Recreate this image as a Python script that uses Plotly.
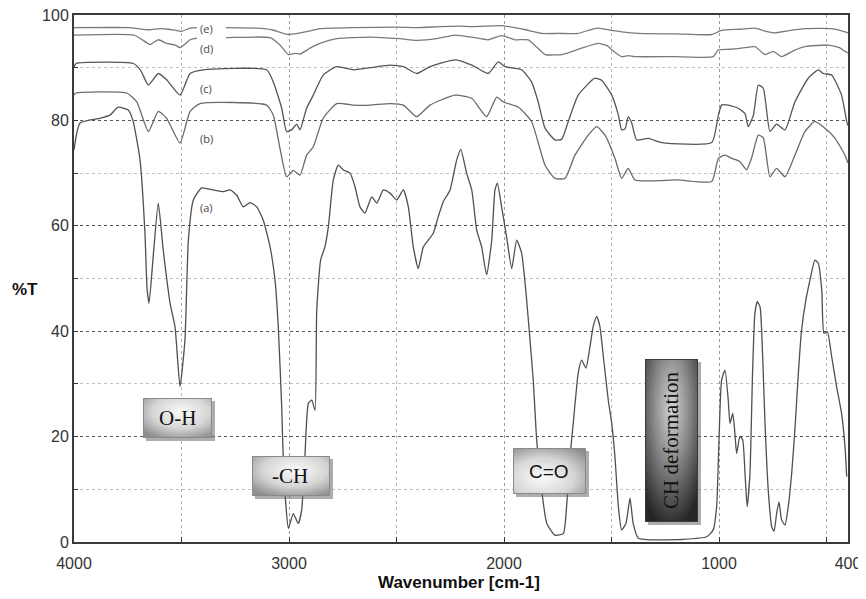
import base64
import plotly.graph_objects as go

# ---------------- data ----------------
wn_a = [4000, 3972, 3879, 3833, 3795, 3749, 3726, 3693, 3670, 3660, 3651, 3630, 3608, 3585, 3553,
        3530, 3507, 3484, 3468, 3445, 3406, 3352, 3306, 3274, 3243, 3213, 3181, 3150, 3120, 3088,
        3065, 3050, 3034, 3027, 3014, 3003, 2980, 2957, 2941, 2926, 2910, 2894, 2879, 2871, 2853,
        2833, 2817, 2794, 2771, 2747, 2716, 2693, 2670, 2647, 2615, 2592, 2561, 2530, 2499, 2468,
        2445, 2422, 2399, 2375, 2329, 2306, 2282, 2251, 2220, 2201, 2174, 2150, 2127, 2104, 2081,
        2057, 2042, 2031, 2011, 1988, 1964, 1941, 1918, 1897, 1879, 1864, 1848, 1825, 1801, 1763,
        1724, 1709, 1693, 1678, 1655, 1639, 1619, 1600, 1585, 1569, 1554, 1538, 1515, 1499, 1484,
        1468, 1453, 1433, 1414, 1399, 1375, 1321, 1166, 1057, 1027, 1011, 1000, 988, 972, 957,
        949, 936, 926, 918, 903, 890, 879, 869, 856, 844, 833, 822, 809, 797, 786,
        771, 755, 744, 732, 721, 709, 693, 678, 662, 647, 631, 616, 596, 577, 554,
        538, 522, 512, 496, 476, 453, 430, 414, 406]
t_a = [74.4, 79.5, 80.4, 81.0, 82.5, 82.0, 80.0, 72.5, 58.6, 48.0, 45.3, 55.0, 64.3, 55.4, 45.3,
       40.8, 29.5, 38.3, 57.3, 64.9, 67.2, 66.8, 66.5, 66.8, 65.8, 63.6, 64.4, 63.6, 61.1, 56.0,
       49.7, 40.9, 25.7, 16.2, 6.7, 2.6, 5.4, 3.5, 6.1, 16.2, 26.3, 26.9, 25.0, 44.0, 53.5,
       56.0, 59.8, 68.7, 71.5, 70.6, 70.0, 67.4, 63.6, 62.4, 65.5, 64.3, 66.8, 66.2, 64.9, 66.8,
       63.6, 56.0, 51.9, 56.0, 58.6, 61.7, 64.6, 66.8, 72.5, 74.5, 70.0, 66.8, 59.2, 56.0, 50.7,
       57.3, 66.8, 68.1, 63.6, 57.9, 51.9, 57.3, 54.8, 47.0, 38.3, 30.7, 19.4, 9.9, 3.5, 1.3,
       1.6, 6.7, 16.2, 22.5, 32.0, 34.5, 33.0, 37.1, 40.9, 42.8, 40.9, 35.2, 26.9, 22.5, 16.2,
       6.7, 2.3, 3.5, 8.3, 3.5, 0.7, 0.4, 0.5, 1.0, 2.3, 6.7, 19.4, 30.7, 32.6, 26.9,
       22.5, 24.4, 20.6, 16.8, 20.0, 19.4, 13.0, 6.7, 13.0, 32.0, 43.4, 45.6, 44.6, 35.2, 22.5,
       9.9, 2.9, 2.0, 5.4, 7.6, 4.2, 3.2, 6.7, 13.0, 21.3, 32.0, 40.2, 45.9, 49.7, 53.5,
       52.9, 47.8, 39.6, 39.9, 35.2, 29.5, 24.4, 18.1, 12.4]

wn_b = [4000, 3990, 3755, 3708, 3654, 3608, 3569, 3507, 3460, 3414, 3104, 3073, 3042, 3011, 2980,
        2949, 2918, 2887, 2841, 2778, 2701, 2623, 2530, 2468, 2406, 2344, 2228, 2150, 2081, 2034,
        2003, 1933, 1872, 1809, 1763, 1716, 1670, 1608, 1569, 1530, 1484, 1453, 1422, 1391, 1191,
        1034, 1003, 972, 941, 903, 872, 849, 817, 794, 763, 732, 693, 647, 600, 554,
        507, 460, 414, 400]
t_b = [84.8, 85.2, 85.2, 83.5, 77.9, 81.7, 80.4, 75.7, 81.7, 83.2, 82.9, 81.0, 74.7, 69.3, 70.5,
       69.6, 73.4, 75.0, 80.4, 83.2, 82.9, 82.9, 83.2, 82.9, 80.7, 82.9, 84.8, 84.2, 80.7, 84.4,
       83.5, 82.5, 79.8, 71.5, 69.0, 69.0, 73.4, 77.2, 78.8, 77.2, 72.8, 69.0, 70.9, 68.7, 68.7,
       68.4, 72.8, 73.4, 72.8, 72.2, 70.6, 72.8, 77.2, 76.7, 69.3, 70.9, 69.3, 73.4, 77.9, 79.8,
       78.5, 76.6, 73.4, 71.9]

wn_c = [4000, 3990, 3724, 3690, 3654, 3608, 3569, 3507, 3460, 3399, 3104, 3073, 3034, 3011, 2988,
        2964, 2949, 2918, 2887, 2841, 2778, 2701, 2623, 2530, 2468, 2406, 2344, 2228, 2150, 2073,
        2027, 1995, 1918, 1872, 1841, 1809, 1763, 1732, 1701, 1655, 1577, 1546, 1499, 1468, 1453,
        1437, 1422, 1406, 1383, 1329, 1267, 1034, 1003, 988, 957, 910, 879, 864, 840, 817,
        794, 763, 732, 693, 647, 585, 538, 515, 476, 430, 406, 400]
t_c = [90.2, 90.8, 90.8, 89.5, 86.7, 88.9, 87.7, 84.8, 88.9, 89.6, 89.6, 87.3, 82.3, 77.9, 78.2,
       79.3, 78.2, 82.3, 84.8, 88.6, 90.2, 89.6, 90.0, 90.5, 90.2, 88.9, 90.2, 91.5, 90.5, 88.9,
       91.1, 90.2, 89.6, 87.3, 83.5, 78.5, 76.3, 76.4, 79.8, 84.8, 88.0, 87.6, 84.8, 81.0, 78.2,
       78.4, 80.7, 79.5, 76.3, 76.6, 75.8, 75.8, 81.0, 82.9, 82.9, 82.3, 81.3, 78.8, 81.0, 86.7,
       86.1, 77.9, 79.3, 78.2, 83.5, 88.0, 89.6, 88.9, 88.6, 84.8, 79.8, 79.0]

wn_d = [4000, 3720, 3690, 3646, 3608, 3569, 3530, 3507, 3480, 3460, 3420, 3290, 3088, 3042, 3003,
        2970, 2949, 2902, 2856, 2778, 2623, 2484, 2406, 2313, 2228, 2150, 2073, 2011, 1949, 1887,
        1850, 1809, 1732, 1690, 1639, 1561, 1520, 1499, 1453, 1422, 1391, 1200, 1027, 1003, 950,
        895, 833, 786, 748, 709, 650, 600, 492, 440, 414, 400]
t_d = [96.2, 96.2, 95.5, 94.4, 95.3, 94.6, 94.3, 93.8, 94.6, 95.3, 95.6, 95.7, 95.7, 94.3, 92.5,
       92.7, 92.6, 93.7, 94.6, 95.5, 95.8, 95.5, 95.2, 95.5, 96.2, 95.8, 95.3, 96.1, 95.3, 95.3,
       94.0, 92.5, 92.5, 93.0, 93.7, 94.6, 94.2, 93.4, 92.1, 92.3, 92.1, 92.1, 92.1, 93.4, 93.5,
       93.7, 94.0, 92.5, 93.1, 92.1, 93.3, 94.0, 94.3, 93.8, 93.1, 92.8]

wn_e = [4000, 3740, 3700, 3650, 3600, 3560, 3500, 3460, 3420, 3300, 3150, 3080, 3040, 3003, 2960,
        2900, 2856, 2700, 2500, 2400, 2300, 2205, 2150, 2073, 2011, 1950, 1900, 1825, 1750, 1656,
        1600, 1563, 1500, 1453, 1377, 1200, 1034, 988, 900, 833, 790, 740, 680, 600, 476,
        414, 400]
t_e = [97.6, 97.6, 97.4, 97.2, 97.4, 97.3, 96.9, 97.5, 97.6, 97.6, 97.5, 97.2, 96.7, 96.3, 96.5,
       97.0, 97.4, 97.6, 97.7, 97.6, 97.8, 97.9, 97.8, 97.9, 98.0, 97.6, 97.2, 96.5, 96.5, 96.5,
       97.2, 97.5, 97.1, 96.8, 96.5, 96.4, 96.3, 97.1, 97.3, 97.5, 97.0, 96.6, 97.0, 97.4, 97.4,
       96.8, 96.6]

curve_names = ["(a)", "(b)", "(c)", "(d)", "(e)"]
label_wn = [3386, 3386, 3386, 3386, 3386]
label_t = [63.4, 76.6, 86.1, 93.7, 97.5]

x_tickvals = [4000, 3000, 2000, 1000, 400]
x_ticktext = ["4000", "3000", "2000", "1000", "400"]
x_minor_vals = [3500, 2500, 1500, 500]
y_tickvals = [0, 20, 40, 60, 80, 100]

band_names = ["O-H", "-CH", "C=O", "CH deformation"]

# ---------------- figure ----------------
fig = go.Figure()
series = [(wn_a, t_a, "#505050"), (wn_b, t_b, "#6a6a6a"), (wn_c, t_c, "#555555"),
          (wn_d, t_d, "#7a7a7a"), (wn_e, t_e, "#7a7a7a")]
for (xs, ys, col), nm in zip(series, curve_names):
    fig.add_trace(go.Scatter(x=xs, y=ys, mode="lines", name=nm,
                             line=dict(color=col, width=1.3, shape="spline", smoothing=0.5),
                             showlegend=False, hoverinfo="x+y"))

# window geometry: the page body has an 8px margin, so the figure starts at (8, 8)
OFF = 8
WIN_W, WIN_H = 866, 599
# plot area in window pixels
L, R, T, B = 74, 848, 15, 542
W, H = R - L, B - T


def px2paper(px, py):
    return (px - L) / W, (B - py) / H


def box_svg(w, h, stops, cx, cy, r, border):
    st = "".join(f'<stop offset="{o}" stop-color="{c}"/>' for o, c in stops)
    svg = (f'<svg xmlns="http://www.w3.org/2000/svg" width="{w}" height="{h}" viewBox="0 0 {w} {h}">'
           f'<defs><radialGradient id="g" cx="{cx}" cy="{cy}" r="{r}">{st}</radialGradient></defs>'
           f'<rect x="3" y="3" width="{w-3}" height="{h-3}" fill="#6a6a6a" opacity="0.55"/>'
           f'<rect x="0.5" y="0.5" width="{w-4}" height="{h-4}" fill="url(#g)" stroke="{border}" stroke-width="1"/>'
           '</svg>')
    return "data:image/svg+xml;base64," + base64.b64encode(svg.encode()).decode()


light = [(0, "#fbfbfb"), (0.55, "#d6d6d6"), (1, "#8e8e8e")]
dark = [(0, "#d4d4d4"), (0.45, "#8a8a8a"), (1, "#262626")]
boxes = [
    # (px_left, py_top, w, h, stops, cx, cy, r, border)
    (143, 398, 72, 43, light, "0.55", "0.35", "0.75", "#8a8a8a"),
    (252, 456, 81, 43, light, "0.55", "0.35", "0.75", "#8a8a8a"),
    (513, 448, 76, 49, light, "0.4", "0.65", "0.8", "#8a8a8a"),
    (645, 359, 56, 166, dark, "0.5", "0.3", "0.75", "#3a3a3a"),
]
images = []
for px, py, w, h, stops, cx, cy, r, bc in boxes:
    x0, y0 = px2paper(px, py)
    images.append(dict(source=box_svg(w, h, stops, cx, cy, r, bc), xref="paper", yref="paper",
                       x=x0, y=y0, sizex=w / W, sizey=h / H, xanchor="left", yanchor="top",
                       sizing="stretch", layer="above"))

annotations = []
# band labels
band_pos = [(177, 418, 0, "Liberation Serif", 21),
            (290, 476, 0, "Liberation Serif", 21),
            (549, 471, 0, "Liberation Sans", 19),
            (671, 440, -90, "Liberation Serif", 21)]
for txt, (px, py, ang, fam, sz) in zip(band_names, band_pos):
    ax_, ay_ = px2paper(px, py)
    annotations.append(dict(text=txt, x=ax_, y=ay_, xref="paper", yref="paper", showarrow=False,
                            xanchor="center", yanchor="middle",
                            textangle=ang, font=dict(family=fam, size=sz, color="#111111")))

# curve labels
for nm, xw, yt in zip(curve_names, label_wn, label_t):
    annotations.append(dict(text=nm, x=xw, y=yt, xref="x", yref="y", showarrow=False,
                            xanchor="center", yanchor="middle",
                            font=dict(family="Open Sans", size=11, color="#444444")))

# axis titles
ax_, ay_ = px2paper(25, 289)
annotations.append(dict(text="<b>%T</b>", x=ax_, y=ay_, xref="paper", yref="paper", showarrow=False,
                        xanchor="center", yanchor="middle",
                        font=dict(family="Liberation Sans", size=17, color="#111111")))
ax_, ay_ = px2paper(459, 582)
annotations.append(dict(text="<b>Wavenumber [cm-1]</b>", x=ax_, y=ay_, xref="paper", yref="paper",
                        showarrow=False, xanchor="center", yanchor="middle",
                        font=dict(family="Liberation Sans", size=17, color="#111111")))

# white patch behind the (e)/(d) labels (gap in the traces)
gx0, gy1 = px2paper(197, 21)
gx1, gy0 = px2paper(226, 43)
shapes = [dict(type="rect", xref="paper", yref="paper", x0=gx0, x1=gx1, y0=gy0, y1=gy1,
               fillcolor="white", line=dict(width=0), layer="above")]

fig.update_layout(
    width=WIN_W - OFF, height=WIN_H - OFF,
    margin=dict(l=L - OFF, r=WIN_W - R, t=T - OFF, b=WIN_H - B, autoexpand=False),
    paper_bgcolor="white", plot_bgcolor="white",
    images=images, annotations=annotations, shapes=shapes,
    showlegend=False,
    xaxis=dict(range=[4000, 400], tickmode="array", tickvals=x_tickvals, ticktext=x_ticktext,
               ticks="inside", ticklen=5, tickcolor="#333", showline=True, linecolor="#3a3a3a",
               linewidth=2, mirror=True, showgrid=True, gridcolor="#9a9a9a", griddash="dot",
               gridwidth=1, zeroline=False, ticklabelstandoff=6, ticklabeloverflow="allow",
               tickfont=dict(family="Liberation Sans", size=16, color="#333333"),
               minor=dict(tickmode="array", tickvals=x_minor_vals, ticks="inside", ticklen=5,
                          tickcolor="#333", showgrid=True, gridcolor="#b5b5b5", griddash="dot",
                          gridwidth=1)),
    yaxis=dict(range=[0, 100], tickmode="array", tickvals=y_tickvals, ticks="inside", ticklen=4,
               tickcolor="#333", showline=True, linecolor="#3a3a3a", linewidth=2, mirror=True,
               showgrid=True, gridcolor="#555555", griddash="dot", gridwidth=1, zeroline=False,
               ticklabeloverflow="allow",
               tickfont=dict(family="Liberation Sans", size=16, color="#333333"),
               minor=dict(dtick=10, tick0=0, ticks="inside", ticklen=4, tickcolor="#333",
                          showgrid=True, gridcolor="#c0c0c0", griddash="dot", gridwidth=1)),
)

fig.write_html("out.html")
